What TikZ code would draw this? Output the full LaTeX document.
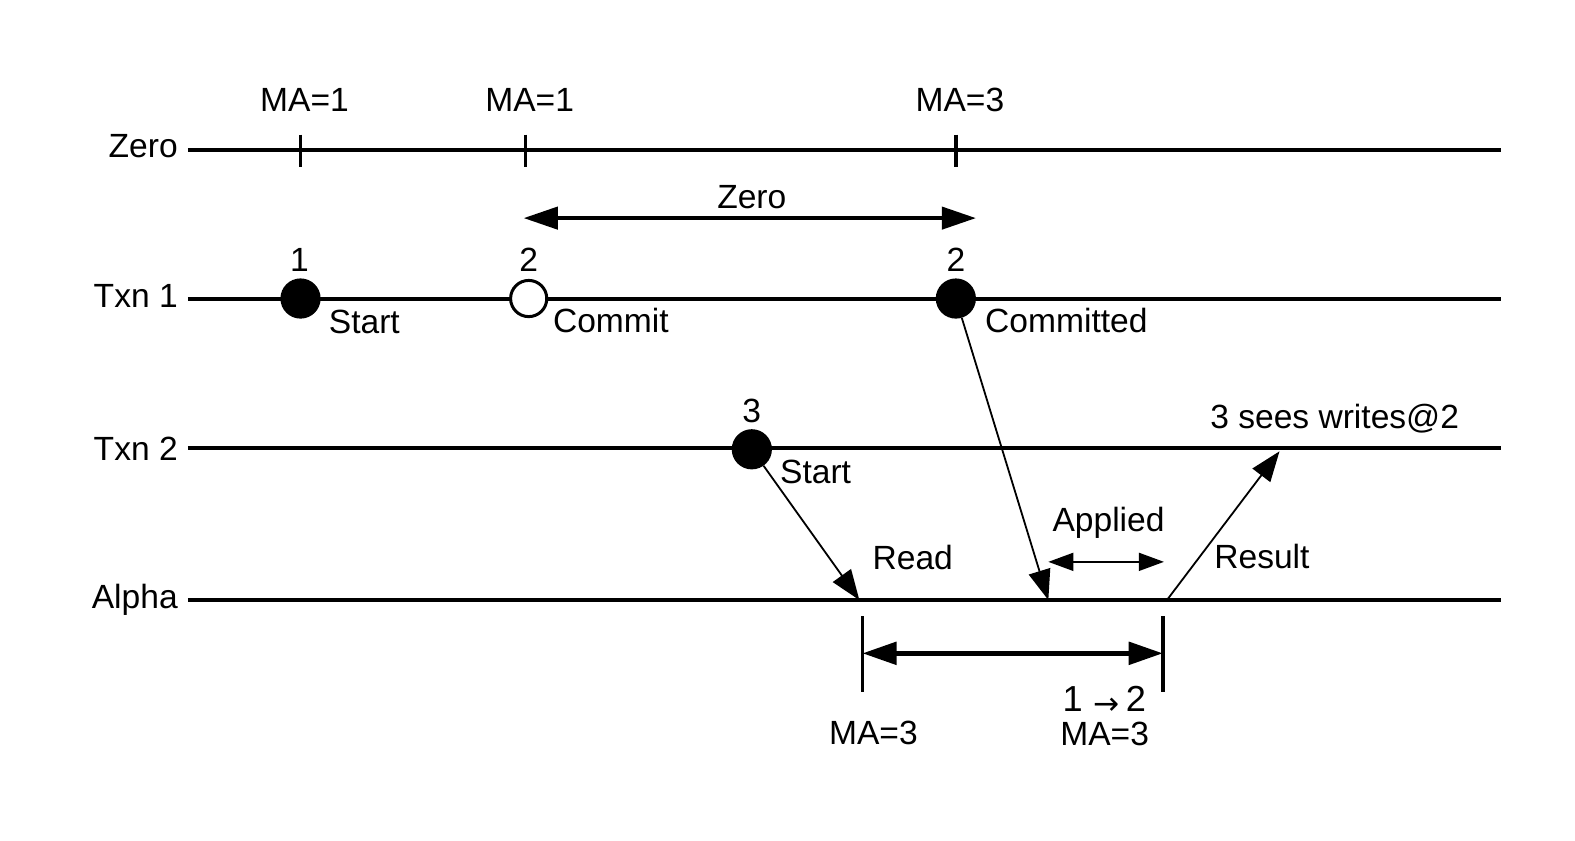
\documentclass[tikz,border=0pt]{standalone}
\usepackage{fontspec}
\setmainfont{Liberation Sans}
\newfontfamily\arrowfont{DejaVu Sans}
\usetikzlibrary{arrows.meta}
\begin{document}
\begin{tikzpicture}[x=1bp,y=-1bp,
  txt/.style={inner sep=0pt,font=\fontsize{33.4bp}{40bp}\selectfont},
  lane/.style={line width=4bp},
  tick/.style={line width=3.5bp},
  dotf/.style={circle,fill=black,minimum size=40bp,inner sep=0pt},
  doto/.style={circle,draw=black,fill=white,line width=3bp,minimum size=36bp,inner sep=0pt},
  thinarr/.style={line width=1.8bp,-{Triangle[length=30bp,width=22bp]}},
  apparr/.style={line width=1.5bp,{Triangle[length=25bp,width=18bp]}-{Triangle[length=25bp,width=18bp]}},
  bigarr/.style={line width=4bp,{Triangle[length=34bp,width=22bp]}-{Triangle[length=34bp,width=22bp]}}
]
\useasboundingbox (0,0) rectangle (1567,836);
% lane labels
\node[txt,anchor=base east] (lz) at (177,157) {Zero};
\node[txt,anchor=base east] (l1) at (177,306) {Txn 1};
\node[txt,anchor=base east] (l2) at (177,458) {Txn 2};
\node[txt,anchor=base east] (la) at (177,605) {Alpha};
% lanes
\coordinate (z0) at (187,149); \coordinate (z1) at (1493,149);
\coordinate (t0) at (187,297); \coordinate (t1) at (1493,297);
\coordinate (s0) at (187,446); \coordinate (s1) at (1493,446);
\coordinate (a0) at (187,597); \coordinate (a1) at (1493,597);
\draw[lane] (z0) -- (z1);
\draw[lane] (t0) -- (t1);
\draw[lane] (s0) -- (s1);
\draw[lane] (a0) -- (a1);
% zero ticks
\coordinate (k1a) at (299,134); \coordinate (k1b) at (299,166);
\coordinate (k2a) at (523,134); \coordinate (k2b) at (523,166);
\coordinate (k3a) at (951,134); \coordinate (k3b) at (951,166);
\draw[tick] (k1a) -- (k1b);
\draw[tick] (k2a) -- (k2b);
\draw[tick] (k3a) -- (k3b);
\node[txt,anchor=base] (ma1) at (303,111) {MA=1};
\node[txt,anchor=base] (ma2) at (527,111) {MA=1};
\node[txt,anchor=base] (ma3) at (955,111) {MA=3};
% zero arrow
\coordinate (za) at (521,217); \coordinate (zb) at (971,217);
\draw[bigarr] (za) -- (zb);
\node[txt,anchor=base] (zl) at (748,207) {Zero};
% txn1 dots
\node[dotf] (d1) at (299,297) {};
\node[doto] (d2) at (526,297) {};
\node[dotf] (d3) at (951,297) {};
\node[txt,anchor=base] (n1) at (298,270) {1};
\node[txt,anchor=base] (n2) at (526,270) {2};
\node[txt,anchor=base] (n3) at (951,270) {2};
\node[txt,anchor=base west] (st1) at (327,332) {Start};
\node[txt,anchor=base west] (cm) at (550,331) {Commit};
\node[txt,anchor=base west] (cmd) at (980,331) {Committed};
% txn2
\node[dotf] (d4) at (748,447) {};
\node[txt,anchor=base] (n4) at (748,420) {3};
\node[txt,anchor=base west] (st2) at (776,481) {Start};
\node[txt,anchor=base west] (sees) at (1204,426) {3 sees writes@2};
% arrows to alpha
\coordinate (rd) at (855,597);
\coordinate (ap) at (1043,597);
\coordinate (rs0) at (1161,597);
\coordinate (rs1) at (1273,449);
\draw[thinarr] (d4) -- (rd);
\draw[thinarr] (d3) -- (ap);
\draw[thinarr] (rs0) -- (rs1);
\coordinate (apa) at (1043,559); \coordinate (apb) at (1158,559);
\draw[apparr] (apa) -- (apb);
\node[txt,anchor=base west] (appl) at (1047,529) {Applied};
\node[txt,anchor=base west] (read) at (868,567) {Read};
\node[txt,anchor=base west] (res) at (1208,566) {Result};
% lower interval
\coordinate (v1a) at (858,613); \coordinate (v1b) at (858,688);
\coordinate (v2a) at (1157,613); \coordinate (v2b) at (1157,688);
\draw[tick] (v1a) -- (v1b);
\draw[tick] (v2a) -- (v2b);
\coordinate (ia) at (858,650); \coordinate (ib) at (1157,650);
\draw[bigarr,line width=5bp] (ia) -- (ib);
\node[inner sep=0pt,anchor=base west] (ver) at (1057,708) {\fontsize{36bp}{40bp}\selectfont 1\hspace{11bp}\smash{\raisebox{-3bp}{\fontsize{31bp}{34bp}\arrowfont →}}\hspace{6bp}2};
\node[txt,anchor=base] (ma4) at (869,741) {MA=3};
\node[txt,anchor=base] (ma5) at (1099,742) {MA=3};
\end{tikzpicture}
\end{document}
